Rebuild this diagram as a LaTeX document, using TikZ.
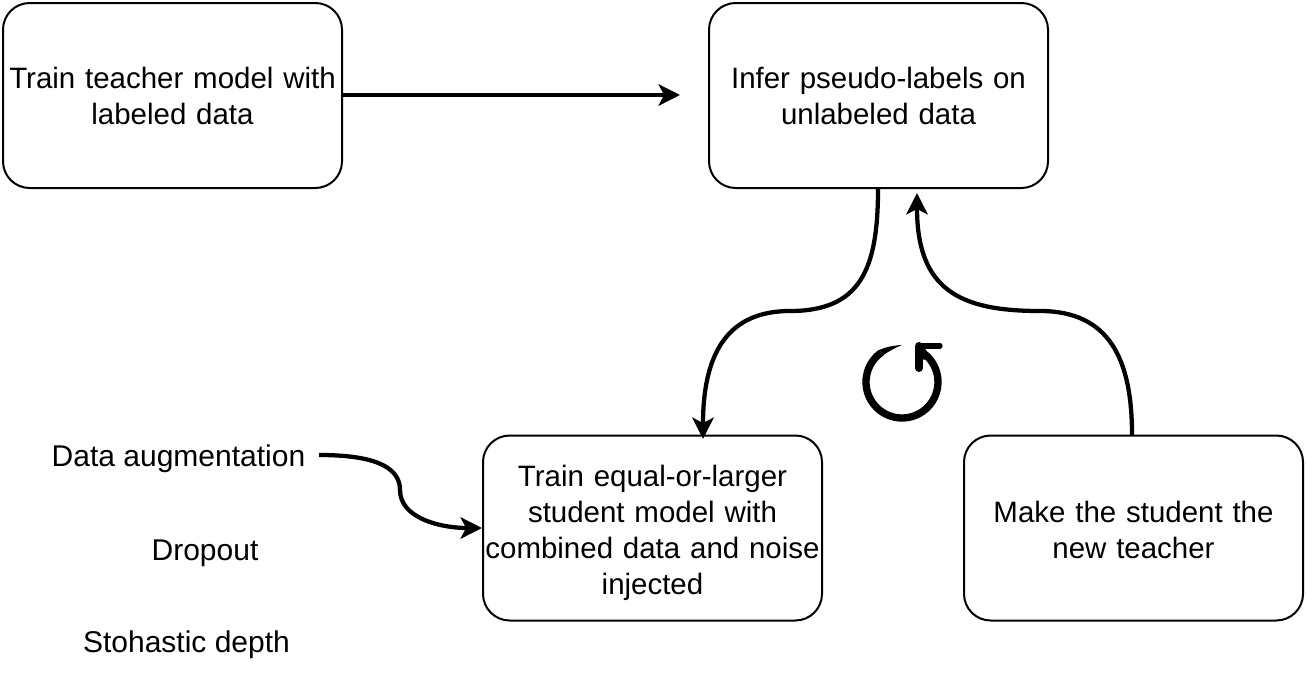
\documentclass[tikz,border=0pt]{standalone}
\usepackage{fontspec}
\setmainfont{Liberation Sans}
\usetikzlibrary{arrows.meta}
\def\fs{\fontsize{22.1}{27}\selectfont}
\tikzset{
 box/.style={draw=black,line width=1.5pt,rounded corners=20pt,minimum width=254.25pt,minimum height=138.75pt,align=center,text width=254.25pt,inner sep=0pt,font=\fs},
 lab/.style={font=\fontsize{22.5}{27}\selectfont,inner sep=0pt},
 conn/.style={draw=black,line width=3.2pt,-{Stealth[length=16pt,width=16pt,inset=4pt]}},
}
\begin{document}
\begin{tikzpicture}[x=0.75pt,y=-0.75pt]
\useasboundingbox (0,0) rectangle (1306,686);
\node[box] (a) at (172.5,95.5) {Train teacher model with\\labeled data};
\node[box] (b) at (878.5,95.5) {Infer pseudo-labels on\\unlabeled data};
\node[box] (c) at (652.5,528) {\rule{0pt}{23.5pt}Train equal-or-larger\\student model with\\combined data and noise\\injected};
\node[box] (d) at (1133.5,528) {\rule{0pt}{19pt}Make the student the\\new teacher};
\node[lab] (e) at (178.5,459) {Data augmentation};
\node[lab] (f) at (205,553) {Dropout};
\node[lab] (g) at (186.5,645) {Stohastic depth};
\coordinate (abend) at (680,95);
\coordinate (bin) at (917,193);
\coordinate (cin) at (703,439);
\coordinate (eout) at (319,455);
\coordinate (dout) at (1132,435);
\draw[conn] (a.east |- 0,95) -- (abend);
\draw[conn] (b.south -| 878,0) .. controls (878,270) and (860,311) .. (790,311) .. controls (730,311) and (703,350) .. (cin);
\draw[conn] (dout) .. controls (1132,360) and (1110,311) .. (1040,311) .. controls (960,311) and (917,290) .. (bin);
\draw[conn] (eout) .. controls (370,455) and (400,465) .. (400,490) .. controls (400,518) and (440,528) .. (c.west);
\draw[line width=5.5pt] (902,382) ++(-125:36) arc[start angle=-125,end angle=-410,radius=36];
\fill (902,345) .. controls (893,345.5) and (886,347) .. (879.5,349.8) -- (883.2,355.2) .. controls (889,351) and (895,348) .. (902,345) -- cycle;
\draw[line width=4pt,line cap=round] (940,346) -- (919,346);
\draw[line width=6pt,line cap=round] (919,346) -- (919,368);
\draw[line width=5.5pt] (919,346) -- (927,358);
\end{tikzpicture}
\end{document}
